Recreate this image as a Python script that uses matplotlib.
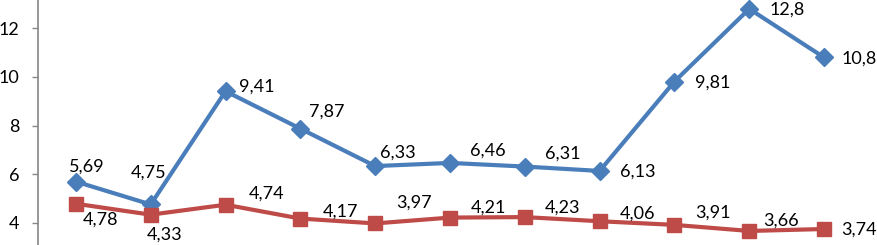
import matplotlib
matplotlib.use("Agg")
import matplotlib.pyplot as plt

# Data
categories = list(range(11))
series_blue = [5.69, 4.75, 9.41, 7.87, 6.33, 6.46, 6.31, 6.13, 9.81, 12.8, 10.8]
series_red = [4.78, 4.33, 4.74, 4.17, 3.97, 4.21, 4.23, 4.06, 3.91, 3.66, 3.74]
yticks = [4, 6, 8, 10, 12]

# Label offsets in pixels (dx right, dy up)
blue_off = [(11, 15), (-2, 32), (31, 5), (26, 17), (23, 13), (38, 12), (38, 13),
            (38, -1), (38, -1), (38, -1), (35, -1)]
red_off = [(25, -16), (14, -20), (41, 11), (40, 7), (39, 21), (38, 10), (38, 9),
           (38, 8), (38, 12), (32, 10), (35, -1)]

W, H = 878, 245
fig = plt.figure(figsize=(W / 100, H / 100), dpi=100)
left = 38.5 / W
right = 861.5 / W
ax = fig.add_axes([left, 0, right - left, 1])

blue = "#4A7EBB"
red = "#BE4B48"
font = "Lato"

ax.plot(categories, series_blue, color=blue, lw=3, marker="D", ms=9.5,
        markeredgecolor=blue, zorder=3, clip_on=False)
ax.plot(categories, series_red, color=red, lw=3, marker="s", ms=10.5,
        markeredgecolor=red, zorder=3, clip_on=False)

def fmt(v):
    s = ("%.2f" % v).rstrip("0").rstrip(".")
    return s.replace(".", ",")

for x, v, (dx, dy) in zip(categories, series_blue, blue_off):
    ax.annotate(fmt(v), (x, v), xytext=(dx, dy), textcoords="offset pixels",
                ha="center", va="center", fontsize=13, family=font, color="black",
                annotation_clip=False)
for x, v, (dx, dy) in zip(categories, series_red, red_off):
    ax.annotate(fmt(v), (x, v), xytext=(dx, dy), textcoords="offset pixels",
                ha="center", va="center", fontsize=13, family=font, color="black",
                annotation_clip=False)

ax.set_xlim(-0.5, 10.5)
ax.set_ylim(3.082, 13.165)
ax.set_yticks(yticks)
ax.set_yticklabels([str(t) for t in yticks], fontsize=13, family=font)
ax.tick_params(axis="y", length=4.3, width=1, color="#868686", pad=9.4)
ax.set_xticks([])
for s in ["top", "right", "bottom"]:
    ax.spines[s].set_visible(False)
ax.spines["left"].set_color("#868686")
ax.spines["left"].set_linewidth(1.2)
ax.patch.set_visible(False)

fig.savefig("out.png", dpi=100)
